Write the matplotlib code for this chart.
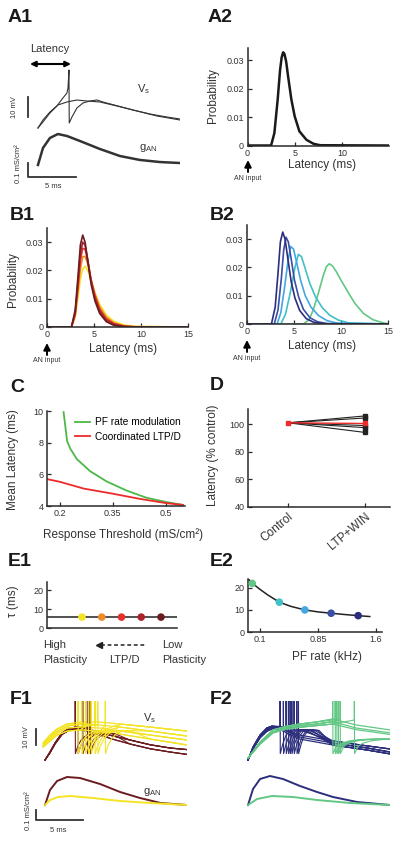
import matplotlib
matplotlib.use('Agg')
import matplotlib.pyplot as plt
from matplotlib.lines import Line2D

plt.rcParams['font.family'] = ['Liberation Sans', 'DejaVu Sans']
plt.rcParams['mathtext.fontset'] = 'custom'
plt.rcParams['mathtext.rm'] = 'Liberation Sans'
plt.rcParams['mathtext.default'] = 'regular'

# ---------------- data ----------------
# A1: example soma voltage traces (ms, mV) and AN conductance (mS/cm2)
a1_spk_t = [0, 0.52, 1.25, 1.98, 2.6, 3.02, 3.13, 3.23, 3.26, 3.54, 4.06, 4.69, 5.42, 6.15, 6.77, 9.9, 12.4, 14.8]
a1_spk_v = [-60, -57, -52.5, -49, -45, -42.5, -40, -31, -57.5, -54.5, -50, -47.5, -46.5, -46, -47, -51, -54, -56]
a1_sub_t = [0, 0.52, 1.25, 2.08, 3.02, 4.06, 5.1, 6.46, 8.23, 9.9, 11.67, 13.44, 14.8]
a1_sub_v = [-60, -56, -52, -48.5, -47, -46, -46.5, -47, -49, -51, -53, -54.5, -55.5]
a1_g_t = [0, 0.52, 1.25, 2.08, 3.02, 4.38, 6.46, 8.54, 10.6, 12.7, 14.8]
a1_g = [0, 0.121, 0.193, 0.221, 0.207, 0.171, 0.114, 0.064, 0.036, 0.021, 0.014]

# A2: latency distribution
a2_t = [0, 2.5, 2.85, 3.2, 3.45, 3.62, 3.78, 3.92, 4.1, 4.3, 4.65, 5.0, 5.5, 6.25, 7.0, 7.7, 15]
a2_p = [0, 0, 0.0044, 0.0162, 0.0265, 0.031, 0.0328, 0.0322, 0.0295, 0.0244, 0.0162, 0.0103, 0.005, 0.002, 0.0006, 0.0001, 0]

# B1: coordinated LTP/D, yellow -> maroon
b1_t = [0, 2.6, 3.0, 3.3, 3.55, 3.8, 4.05, 4.35, 4.7, 5.1, 5.6, 6.3, 7.1, 8.2, 9.5, 15]
b1_p = [
    [0, 0, 0.0035, 0.0105, 0.0170, 0.0205, 0.0215, 0.0200, 0.0162, 0.0121, 0.0080, 0.0043, 0.0020, 0.0007, 0.0002, 0],
    [0, 0, 0.0040, 0.0125, 0.0205, 0.0248, 0.0250, 0.0222, 0.0168, 0.0117, 0.0071, 0.0035, 0.0015, 0.0004, 0.0001, 0],
    [0, 0, 0.0045, 0.0145, 0.0235, 0.0278, 0.0275, 0.0232, 0.0165, 0.0110, 0.0063, 0.0029, 0.0012, 0.0003, 0, 0],
    [0, 0, 0.0050, 0.0160, 0.0260, 0.0300, 0.0290, 0.0235, 0.0160, 0.0102, 0.0056, 0.0024, 0.0009, 0.0002, 0, 0],
    [0, 0, 0.0060, 0.0180, 0.0290, 0.0325, 0.0300, 0.0230, 0.0150, 0.0092, 0.0048, 0.0019, 0.0006, 0.0001, 0, 0],
]
warm_colors = ['#f4e425', '#ef8a25', '#e5302c', '#a8232a', '#6b1c20']

# B2: PF rate modulation, green -> navy
b2_t = [
    [0, 6.0, 6.6, 7.05, 7.6, 8.1, 8.45, 8.76, 9.1, 9.5, 10.0, 10.7, 11.5, 12.4, 13.4, 14.5, 15],
    [0, 3.6, 4.1, 4.6, 5.1, 5.46, 5.8, 6.2, 6.7, 7.3, 8.0, 8.8, 9.7, 10.8, 15],
    [0, 3.2, 3.6, 4.0, 4.35, 4.65, 4.95, 5.3, 5.7, 6.2, 6.8, 7.6, 8.5, 9.6, 15],
    [0, 2.9, 3.3, 3.65, 3.9, 4.15, 4.4, 4.7, 5.05, 5.5, 6.0, 6.7, 7.5, 8.6, 15],
    [0, 2.6, 3.0, 3.3, 3.55, 3.8, 4.05, 4.35, 4.7, 5.1, 5.6, 6.3, 7.1, 8.2, 15],
]
b2_p = [
    [0, 0, 0.0015, 0.005, 0.011, 0.017, 0.0203, 0.0213, 0.0205, 0.0185, 0.0155, 0.0115, 0.0072, 0.0037, 0.0015, 0.0004, 0.0001],
    [0, 0, 0.0035, 0.011, 0.020, 0.0246, 0.0238, 0.0195, 0.0142, 0.0095, 0.0058, 0.0031, 0.0014, 0.0004, 0],
    [0, 0, 0.004, 0.013, 0.022, 0.0274, 0.0265, 0.0215, 0.0155, 0.010, 0.006, 0.003, 0.0012, 0.0003, 0],
    [0, 0, 0.005, 0.016, 0.026, 0.0307, 0.029, 0.023, 0.0155, 0.0095, 0.0052, 0.0022, 0.0008, 0.0001, 0],
    [0, 0, 0.006, 0.018, 0.029, 0.0325, 0.030, 0.023, 0.015, 0.0092, 0.0048, 0.0019, 0.0006, 0.0001, 0],
]
cool_colors = ['#62c784', '#3fc1c6', '#44a6e2', '#3a4fa6', '#2c2e7c']

# C: mean latency vs response threshold
c_green_x = [0.211, 0.221, 0.230, 0.249, 0.268, 0.286, 0.333, 0.389, 0.446, 0.502, 0.549]
c_green_y = [9.93, 8.1, 7.62, 6.95, 6.57, 6.2, 5.55, 4.98, 4.52, 4.25, 4.07]
c_red_x = [0.164, 0.2, 0.268, 0.352, 0.427, 0.502, 0.549]
c_red_y = [5.7, 5.53, 5.1, 4.77, 4.45, 4.18, 4.07]

# D: latency (% control)
d_groups = ['Control', 'LTP+WIN']
d_control = 101
d_ltp_cells = [106, 104.5, 99, 97.5, 94]
d_ltp_mean = 100.5

# E1 / E2: time constants
e1_level = [1, 2, 3, 4, 5]
e1_tau = [5.8, 5.8, 5.8, 5.8, 5.8]
e2_rate = [0.0, 0.35, 0.68, 1.02, 1.37]
e2_tau = [22.0, 13.5, 10.0, 8.5, 7.4]
e2_fit_x = [-0.05, 0.0, 0.1, 0.2, 0.35, 0.5, 0.68, 0.85, 1.02, 1.2, 1.37, 1.52]
e2_fit_tau = [24, 22.1, 19.3, 16.8, 13.5, 11.6, 10.0, 9.1, 8.5, 7.9, 7.4, 7.0]

# F1: maroon (high plasticity) and yellow traces
f1_m_t = [0, 0.53, 1.06, 1.81, 2.66, 3.4, 4.79, 6.91, 9.04, 11.2, 13.3, 15.1]
f1_m_v = [
    [-60, -55, -49.4, -43.1, -40, -39.4, -41, -44.5, -47.5, -50.5, -52.5, -53.5],
    [-60, -55.5, -50, -44, -41, -40.5, -42.5, -46.5, -50, -53, -55, -56.5],
]
f1_y_t = [-0.2, 0.53, 1.28, 2.34, 3.72, 5.85, 7.98, 11.2, 15.1]
f1_y_v = [
    [-49.4, -44.4, -40.6, -37.5, -36.3, -36.3, -37.5, -39.4, -41.9],
    [-50.6, -45.6, -41.9, -38.8, -37.5, -38.1, -39.4, -41.9, -45],
    [-51.2, -46.9, -43.1, -40, -39.4, -40, -41.9, -44.4, -47.5],
    [-51.9, -48.1, -44.4, -41.9, -41.2, -41.9, -43.8, -46.9, -50.6],
]
f1_m_spikes = [3.2, 3.5, 4.0, 4.5, 4.8]
f1_y_spikes = [3.5, 3.9, 4.3, 4.6, 4.9, 5.3, 5.6, 6.4]
f1_rec_dt = [0.3, 0.7, 1.2, 1.8, 2.6]
f1_m_rec = [-51, -47, -44.5, -43.5, -43.5]
f1_y_rec = [-51, -46.5, -43.5, -42, -41.5]
f1_gm_t = [0, 0.53, 1.28, 2.34, 3.72, 5.85, 7.98, 10.1, 12.3, 15.1]
f1_gm = [0, 0.15, 0.24, 0.28, 0.27, 0.21, 0.13, 0.07, 0.02, 0.0]
f1_gy_t = [0, 0.53, 1.38, 2.66, 5.11, 7.98, 11.2, 15.1]
f1_gy = [0, 0.05, 0.08, 0.09, 0.07, 0.04, 0.02, 0.0]

# F2: navy (high PF rate) and green traces
f2_n_t = [0, 0.53, 1.28, 2.0, 2.55, 3.4, 5.5, 9.0, 12.7, 15.1]
f2_n_v = [
    [-60, -51.9, -44.4, -40, -38.8, -39.4, -44.4, -48.1, -51.2, -53.1],
    [-60, -52.5, -45, -41, -39.5, -40, -45.6, -49.4, -52.5, -55],
    [-60, -53, -46, -42, -40.5, -41, -46.9, -50.6, -53.8, -56.2],
]
f2_g_t = [0, 1.28, 2.66, 4.15, 5.5, 7.3, 9.0, 11.5, 15.1]
f2_g_v = [
    [-58.8, -48.8, -41.2, -38.8, -37.5, -36.2, -34.4, -38.1, -41.2],
    [-58.8, -49.5, -42.5, -39.5, -38.5, -37.5, -36, -40, -43],
    [-58.8, -50, -43, -40.5, -39.5, -38.5, -37.5, -41, -44],
]
f2_n_spikes = [3.4, 3.75, 4.04, 4.29, 4.47, 4.65, 4.89, 5.18, 5.35]
f2_g_spikes = [9.0, 9.26, 9.43, 9.6, 9.79, 11.3]
f2_n_rec_dt = [0.3, 0.6, 1.0, 1.5, 2.2]
f2_n_rec = [-50, -45, -42, -41, -41.5]
f2_g_rec_dt = [0.4, 0.9, 1.8, 3.0, 4.5, 6.5]
f2_g_rec = [-51.5, -49.5, -48, -47.2, -47, -47]
f2_gn_t = [0, 0.53, 1.28, 2.34, 3.72, 5.53, 7.34, 9.04, 11.6, 15.1]
f2_gn = [0, 0.16, 0.26, 0.29, 0.26, 0.19, 0.13, 0.08, 0.03, 0.0]
f2_gg_t = [0, 0.96, 2.55, 4.79, 7.34, 10.85, 15.1]
f2_gg = [0, 0.06, 0.09, 0.08, 0.05, 0.02, 0.0]

SPIKE_PEAK = 10
SPIKE_TROUGH = -56

# ---------------- layout helpers (pixel boxes on a 400x841 canvas) ----------------
W, H = 400, 841
fig = plt.figure(figsize=(4, 8.41), dpi=100)
INK = '#2a2a2a'
TXT = '#333333'


def box(l, t, r, b):
    return [l / W, 1 - b / H, (r - l) / W, (b - t) / H]


def fp(x, y):
    return (x / W, 1 - y / H)


def ftext(x, y, s, **kw):
    kw.setdefault('ha', 'center')
    kw.setdefault('va', 'center')
    kw.setdefault('color', TXT)
    fig.text(x / W, 1 - y / H, s, **kw)


def style_axes(ax):
    for side in ['top', 'right']:
        ax.spines[side].set_visible(False)
    for side in ['left', 'bottom']:
        ax.spines[side].set_linewidth(1.1)
        ax.spines[side].set_color(INK)
    ax.tick_params(direction='in', length=3, width=0.9, color=INK,
                   labelsize=6.5, labelcolor=TXT, pad=2.5)


def bare_axes(rect, xlim, ylim):
    ax = fig.add_axes(rect)
    ax.set_xlim(*xlim)
    ax.set_ylim(*ylim)
    ax.axis('off')
    return ax


def spike_trace(bt, bv, ts, v_th, rec_dt, rec_v):
    t = [x for x in bt if x < ts - 0.15] + [ts, ts, ts + 0.03] + [ts + d for d in rec_dt]
    v = [y for x, y in zip(bt, bv) if x < ts - 0.15] + [v_th, SPIKE_PEAK, SPIKE_TROUGH] + list(rec_v)
    end = ts + rec_dt[-1]
    t += [x for x in bt if x > end + 0.2]
    v += [y for x, y in zip(bt, bv) if x > end + 0.2]
    return t, v


def an_input(x, y_tip, y_tail, y_text):
    fig.add_artist(matplotlib.patches.FancyArrowPatch(
        fp(x, y_tail), fp(x, y_tip), transform=fig.transFigure,
        arrowstyle='-|>', mutation_scale=10, lw=1.4, color='k',
        shrinkA=0, shrinkB=0))
    ftext(x, y_text, 'AN input', fontsize=5)


# panel letters
for lbl, x, y in [('A1', 8, 17), ('A2', 208, 17), ('B1', 10, 215), ('B2', 210, 215),
                  ('C', 10, 388), ('D', 210, 385), ('E1', 8, 562), ('E2', 210, 562),
                  ('F1', 10, 699), ('F2', 210, 699)]:
    ftext(x, y, lbl, fontsize=14, fontweight='bold', ha='left', color='#1a1a1a')

# ---------------- A1 ----------------
ax = bare_axes(box(25, 40, 180, 130), (-1.35, 14.8), (-61, -16))
ax.plot(a1_sub_t, a1_sub_v, color='#333', lw=0.8)
ax.plot(a1_spk_t, a1_spk_v, color='#333', lw=0.8)
ax.plot([-1.04, -1.04], [-44.5, -54.5], color='#333', lw=1.3, clip_on=False)
ax.annotate('', xy=(3.44, -28), xytext=(-0.83, -28),
            arrowprops=dict(arrowstyle='<|-|>', lw=1.5, color='k', mutation_scale=8,
                            shrinkA=0, shrinkB=0))
ax = bare_axes(box(25, 128, 180, 192), (-1.35, 14.8), (-0.193, 0.264))
ax.plot(a1_g_t, a1_g, color='#333', lw=1.8)
ax.plot([-1.04, -1.04, 3.96], [0.014, -0.086, -0.086], color='#333', lw=1.3, clip_on=False)
ftext(50, 49, 'Latency', fontsize=8)
ftext(144, 89, r'V$_s$', fontsize=8)
ftext(148, 148, r'g$_{AN}$', fontsize=8)
ftext(15, 107, '10 mV', fontsize=5.5, rotation=90)
ftext(19, 164, '0.1 mS/cm²', fontsize=5.5, rotation=90)
ftext(53, 186, '5 ms', fontsize=5.5)

# ---------------- A2 ----------------
ax = fig.add_axes(box(247.5, 47.5, 389, 145.5))
style_axes(ax)
ax.plot(a2_t, a2_p, color='#1a1a1a', lw=1.8)
ax.set_xlim(0, 15)
ax.set_ylim(0, 0.0345)
ax.set_xticks([0, 5, 10])
ax.set_yticks([0, 0.01, 0.02, 0.03])
ax.set_yticklabels(['0', '0.01', '0.02', '0.03'])
ftext(213, 96, 'Probability', fontsize=8.5, rotation=90)
ftext(322, 165, 'Latency (ms)', fontsize=8.5)
an_input(248, 160, 172, 178)

# ---------------- B1 / B2 ----------------
ax = fig.add_axes(box(47, 228, 188, 327))
style_axes(ax)
for p, col in zip(b1_p, warm_colors):
    ax.plot(b1_t, p, color=col, lw=1.2)
ax.set_xlim(0, 15)
ax.set_ylim(0, 0.035)
ax.set_xticks([0, 5, 10, 15])
ax.set_yticks([0, 0.01, 0.02, 0.03])
ax.set_yticklabels(['0', '0.01', '0.02', '0.03'])
ftext(13, 280, 'Probability', fontsize=8.5, rotation=90)
ftext(123, 349, 'Latency (ms)', fontsize=8.5)
an_input(47, 343, 355, 360)

ax = fig.add_axes(box(247, 225, 388, 324))
style_axes(ax)
for t, p, col in zip(b2_t, b2_p, cool_colors):
    ax.plot(t, p, color=col, lw=1.2)
ax.set_xlim(0, 15)
ax.set_ylim(0, 0.035)
ax.set_xticks([0, 5, 10, 15])
ax.set_yticks([0, 0.01, 0.02, 0.03])
ax.set_yticklabels(['0', '0.01', '0.02', '0.03'])
ftext(322, 346, 'Latency (ms)', fontsize=8.5)
an_input(247, 340, 352, 358)

# ---------------- C ----------------
ax = fig.add_axes(box(47, 411, 185, 506))
style_axes(ax)
ax.plot(c_green_x, c_green_y, color='#4cb848', lw=1.3, label='PF rate modulation')
ax.plot(c_red_x, c_red_y, color='#ee2a2a', lw=1.3, label='Coordinated LTP/D')
ax.set_xlim(0.164, 0.555)
ax.set_ylim(4, 10)
ax.set_xticks([0.2, 0.35, 0.5])
ax.set_xticklabels(['0.2', '0.35', '0.5'])
ax.set_yticks([4, 6, 8, 10])
ax.legend(loc='upper left', bbox_to_anchor=(0.16, 1.0), frameon=False, fontsize=7.3,
          handlelength=1.5, handletextpad=0.5, labelspacing=0.45, borderaxespad=0.2)
ftext(13, 460, 'Mean Latency (ms)', fontsize=8.5, rotation=90)
ftext(123, 535, 'Response Threshold (mS/cm²)', fontsize=8.5)

# ---------------- D ----------------
ax = fig.add_axes(box(248, 409, 390, 507))
style_axes(ax)
for v in d_ltp_cells:
    ax.plot([0, 1], [d_control, v], color='#222', lw=0.8)
    ax.plot([1], [v], 's', color='#222', ms=3.5)
ax.plot([0, 1], [d_control, d_ltp_mean], color='#ee2a2a', lw=1.0)
ax.plot([0, 1], [d_control, d_ltp_mean], 's', color='#ee2a2a', ms=3.5)
ax.set_xlim(-0.52, 1.32)
ax.set_ylim(40, 111)
ax.set_yticks([40, 60, 80, 100])
ax.set_xticks([0, 1])
ax.set_xticklabels(d_groups, rotation=40, ha='right', rotation_mode='anchor', fontsize=8.5)
ftext(213, 455, 'Latency (% control)', fontsize=8.5, rotation=90)

# ---------------- E1 ----------------
ax = fig.add_axes(box(47, 582, 177, 628))
style_axes(ax)
ax.axhline(e1_tau[0], color='#222', lw=1.1)
ax.scatter(e1_level, e1_tau, c=warm_colors, s=30, zorder=3, edgecolors='none')
ax.set_xlim(-0.77, 5.81)
ax.set_ylim(0, 24.5)
ax.set_xticks([])
ax.set_yticks([0, 10, 20])
ftext(13, 601, 'τ (ms)', fontsize=8.5, rotation=90)
ftext(43, 645, 'High', fontsize=8, ha='left')
ftext(43, 660, 'Plasticity', fontsize=8, ha='left')
ftext(162, 645, 'Low', fontsize=8, ha='left')
ftext(162, 660, 'Plasticity', fontsize=8, ha='left')
ftext(124, 660, 'LTP/D', fontsize=8)
fig.add_artist(Line2D([fp(101, 0)[0], fp(145, 0)[0]], [fp(0, 645)[1]] * 2,
                      transform=fig.transFigure, ls=(0, (2.5, 1.8)), color='#222', lw=1.1))
fig.add_artist(Line2D([fp(99, 0)[0]], [fp(0, 645)[1]], transform=fig.transFigure,
                      marker='<', ms=5, color='#222', lw=0))

# ---------------- E2 ----------------
ax = fig.add_axes(box(248, 579, 382, 632))
style_axes(ax)
ax.plot(e2_fit_x, e2_fit_tau, color='#222', lw=1.1)
ax.scatter(e2_rate, e2_tau, c=cool_colors, s=30, zorder=3, edgecolors='none')
ax.set_xlim(-0.055, 1.678)
ax.set_ylim(0, 24)
ax.set_xticks([0.1, 0.85, 1.6])
ax.set_xticklabels(['0.1', '0.85', '1.6'])
ax.set_yticks([0, 10, 20])
ftext(327, 657, 'PF rate (kHz)', fontsize=8.5)

# ---------------- F1 ----------------
ax = bare_axes(box(25, 701, 187, 768), (-2.13, 15.1), (-65, -23.1))
for v in f1_y_v:
    ax.plot(f1_y_t, v, color=warm_colors[0], lw=0.9)
for v in f1_m_v:
    ax.plot(f1_m_t, v, color=warm_colors[4], lw=0.9)
for i, ts in enumerate(f1_m_spikes):
    t, v = spike_trace(f1_m_t, f1_m_v[i % 2], ts, -40, f1_rec_dt, f1_m_rec)
    ax.plot(t, v, color=warm_colors[4], lw=0.8)
for i, ts in enumerate(f1_y_spikes):
    t, v = spike_trace(f1_y_t, f1_y_v[i % 4], ts, -38, f1_rec_dt, f1_y_rec)
    ax.plot(t, v, color=warm_colors[0], lw=0.8)
ax.plot([-0.96, -0.96], [-40.6, -50.6], color='#333', lw=1.3, clip_on=False)
ax = bare_axes(box(25, 770, 187, 825), (-2.13, 15.1), (-0.20, 0.35))
ax.plot(f1_gm_t, f1_gm, color=warm_colors[4], lw=1.4)
ax.plot(f1_gy_t, f1_gy, color=warm_colors[0], lw=1.4)
ax.plot([-0.96, -0.96, 4.04], [-0.05, -0.15, -0.15], color='#333', lw=1.3, clip_on=False)
ftext(27, 737, '10 mV', fontsize=5.5, rotation=90)
ftext(150, 718, r'V$_s$', fontsize=8)
ftext(152, 792, r'g$_{AN}$', fontsize=8)
ftext(29, 811, '0.1 mS/cm²', fontsize=5.5, rotation=90)
ftext(58, 831, '5 ms', fontsize=5.5)

# ---------------- F2 ----------------
ax = bare_axes(box(228, 701, 390, 768), (-2.13, 15.1), (-65, -23.1))
for v in f2_n_v:
    ax.plot(f2_n_t, v, color=cool_colors[4], lw=0.9)
for i, ts in enumerate(f2_n_spikes):
    t, v = spike_trace(f2_n_t, f2_n_v[i % 3], ts, -39, f2_n_rec_dt, f2_n_rec)
    ax.plot(t, v, color=cool_colors[4], lw=0.8)
for v in f2_g_v:
    ax.plot(f2_g_t, v, color=cool_colors[0], lw=0.9)
for i, ts in enumerate(f2_g_spikes):
    t, v = spike_trace(f2_g_t, f2_g_v[i % 3], ts, -35, f2_g_rec_dt, f2_g_rec)
    ax.plot(t, v, color=cool_colors[0], lw=0.8)
ax = bare_axes(box(228, 770, 390, 825), (-2.13, 15.1), (-0.20, 0.35))
ax.plot(f2_gn_t, f2_gn, color=cool_colors[4], lw=1.4)
ax.plot(f2_gg_t, f2_gg, color=cool_colors[0], lw=1.4)

fig.savefig('out.png', dpi=100)
